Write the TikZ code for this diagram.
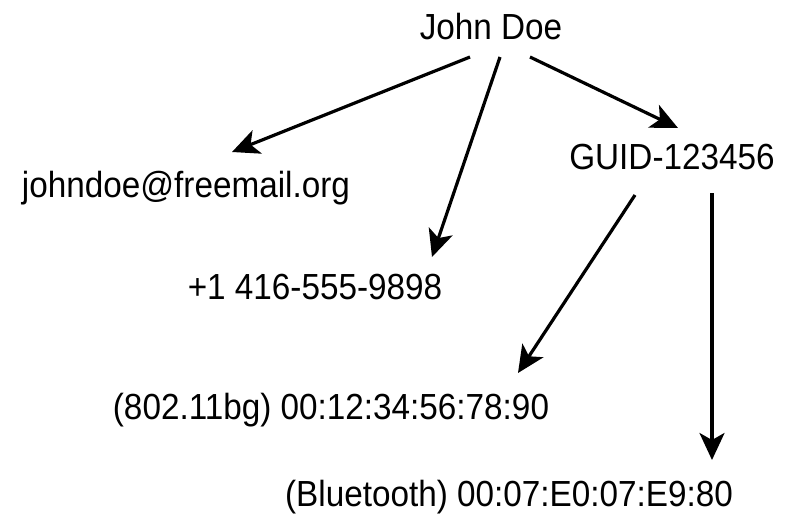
\documentclass[tikz,border=0pt]{standalone}
\usepackage{fontspec}
\setmainfont{Liberation Sans}[FakeStretch=0.917]
\usetikzlibrary{arrows.meta,calc}
\begin{document}
\begin{tikzpicture}[x=1pt,y=-1pt,
  lbl/.style={anchor=base,inner sep=0pt,font=\fontsize{36.3}{42}\selectfont},
  conn/.style={line width=3.2pt,-{Stealth[length=27pt,width=25pt,inset=7pt]}}]
\useasboundingbox (0,0) rectangle (788,517);
\node[lbl] (jd) at (491,39) {John Doe};
\node[lbl] (em) at (186,197) {johndoe@freemail.org};
\node[lbl] (gu) at (672,169) {GUID-123456};
\node[lbl] (ph) at (315,299) {+1 416-555-9898};
\node[lbl] (wi) at (331,419) {(802.11bg) 00:12:34:56:78:90};
\node[lbl] (bt) at (509,506) {(Bluetooth) 00:07:E0:07:E9:80};
\draw[conn] ($(jd.base)+(-21,18)$) -- ($(em.base)+(46,-45)$);
\draw[conn] ($(jd.base)+(9,18)$) -- ($(ph.base)+(117,-42)$);
\draw[conn] ($(jd.base)+(39,18)$) -- ($(gu.base)+(6,-41)$);
\draw[conn] ($(gu.base)+(-37,26)$) -- ($(wi.base)+(187,-46)$);
\draw[conn] ($(gu.base)+(40,24)$) -- ($(bt.base)+(203,-46)$);
\end{tikzpicture}
\end{document}
